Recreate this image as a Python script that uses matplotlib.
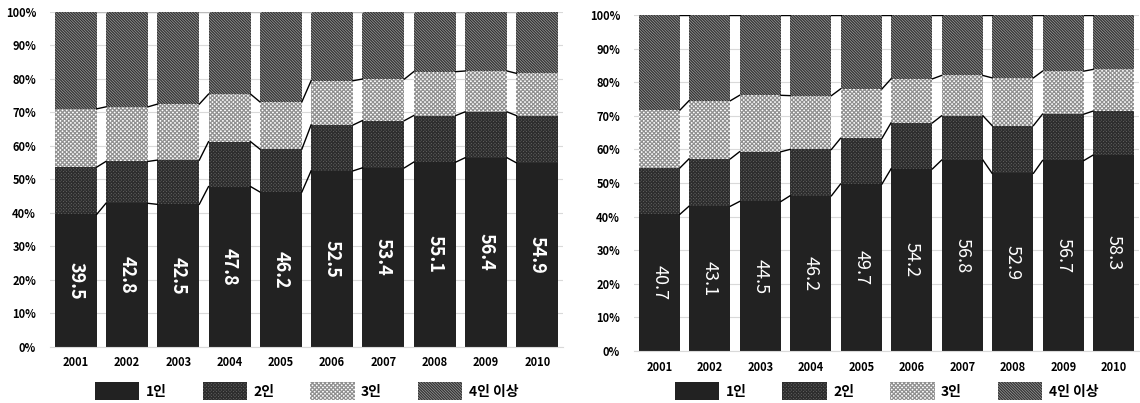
import numpy as np
import matplotlib
matplotlib.use('Agg')
from matplotlib import pyplot as plt

plt.rcParams['font.family'] = ['Noto Sans CJK KR', 'DejaVu Sans']
plt.rcParams['hatch.linewidth'] = 0.9

years = ['2001', '2002', '2003', '2004', '2005', '2006', '2007', '2008', '2009', '2010']
series_names = ['1인', '2인', '3인', '4인 이상']

# left chart shares (%)
left_one = [39.5, 42.8, 42.5, 47.8, 46.2, 52.5, 53.4, 55.1, 56.4, 54.9]
left_two = [14.1, 12.5, 13.2, 13.4, 12.8, 13.7, 14.1, 13.9, 13.7, 14.1]
left_three = [17.4, 16.3, 16.7, 14.2, 14.1, 13.2, 12.4, 13.1, 12.2, 12.6]
left_four = [29.0, 28.4, 27.6, 24.6, 26.9, 20.6, 20.1, 17.9, 17.7, 18.4]

# right chart shares (%)
right_one = [40.7, 43.1, 44.5, 46.2, 49.7, 54.2, 56.8, 52.9, 56.7, 58.3]
right_two = [13.8, 14.1, 14.8, 13.8, 13.6, 13.7, 13.2, 14.2, 13.8, 13.1]
right_three = [17.2, 17.3, 16.8, 16.0, 14.7, 13.1, 12.0, 14.2, 12.8, 12.4]
right_four = [28.3, 25.5, 23.9, 24.0, 22.0, 19.0, 18.0, 18.7, 16.7, 16.2]

styles = [
    dict(facecolor='#222222', edgecolor='#222222'),
    dict(facecolor='#666666', edgecolor='#2e2e2e', hatch='xxxxxxxxxx'),
    dict(facecolor='white', edgecolor='#909090', hatch='xxxxxxxx'),
    dict(facecolor='#a0a0a0', edgecolor='#333333', hatch='\\\\\\\\\\\\\\\\\\\\\\\\'),
]


def draw(ax, shares, bold_labels, top_color):
    x = np.arange(len(years))
    w = 0.82
    bottom = np.zeros(len(years))
    for vals, name, st in zip(shares, series_names, styles):
        ax.bar(x, vals, w, bottom=bottom, label=name, linewidth=0, zorder=2, **st)
        bottom = bottom + np.array(vals)
        color = 'black' if bottom.max() < 99.5 else top_color
        for i in range(len(x) - 1):
            ax.plot([x[i] + w / 2, x[i + 1] - w / 2], [bottom[i], bottom[i + 1]],
                    color=color, lw=1.0, zorder=3)

    for i, v in enumerate(shares[0]):
        ax.text(x[i], v / 2, f'{v:.1f}', rotation=270, ha='center', va='center',
                color='white', fontsize=13,
                fontweight='bold' if bold_labels else 'normal', zorder=4)

    ax.set_xlim(-0.5, len(years) - 0.5)
    ax.set_ylim(0, 100)
    ax.set_xticks(x)
    ax.set_xticklabels(years, fontsize=8, fontweight='bold')
    ticks = np.arange(0, 101, 10)
    ax.set_yticks(ticks)
    ax.set_yticklabels([f'{t}%' for t in ticks], fontsize=8, fontweight='bold')
    ax.tick_params(length=0)
    ax.tick_params(axis='y', pad=10)
    ax.tick_params(axis='x', pad=7)
    ax.grid(axis='y', color='#d9d9d9', lw=0.8, zorder=0)
    ax.set_axisbelow(True)
    for s in ['top', 'right', 'left']:
        ax.spines[s].set_visible(False)
    ax.spines['bottom'].set_color('#d9d9d9')


f = plt.figure(figsize=(11.4, 4.03), dpi=100)

ax1 = f.add_axes([50 / 1140, 1 - 346.7 / 403, 513 / 1140, 335 / 403])
draw(ax1, [left_one, left_two, left_three, left_four], True, '#bbbbbb')

ax2 = f.add_axes([634 / 1140, 1 - 351 / 403, 505 / 1140, 336 / 403])
draw(ax2, [right_one, right_two, right_three, right_four], False, 'black')

for ax in (ax1, ax2):
    pos = ax.get_position()
    ax.legend(loc='center', bbox_to_anchor=((pos.x0 + pos.x1) / 2, 1 - 391 / 403),
              bbox_transform=f.transFigure, ncol=4, frameon=False,
              handlelength=3.2, handleheight=1.7, handletextpad=0.45,
              columnspacing=2.6, prop=dict(weight='bold', size=10))

f.savefig('out.png', dpi=100)
